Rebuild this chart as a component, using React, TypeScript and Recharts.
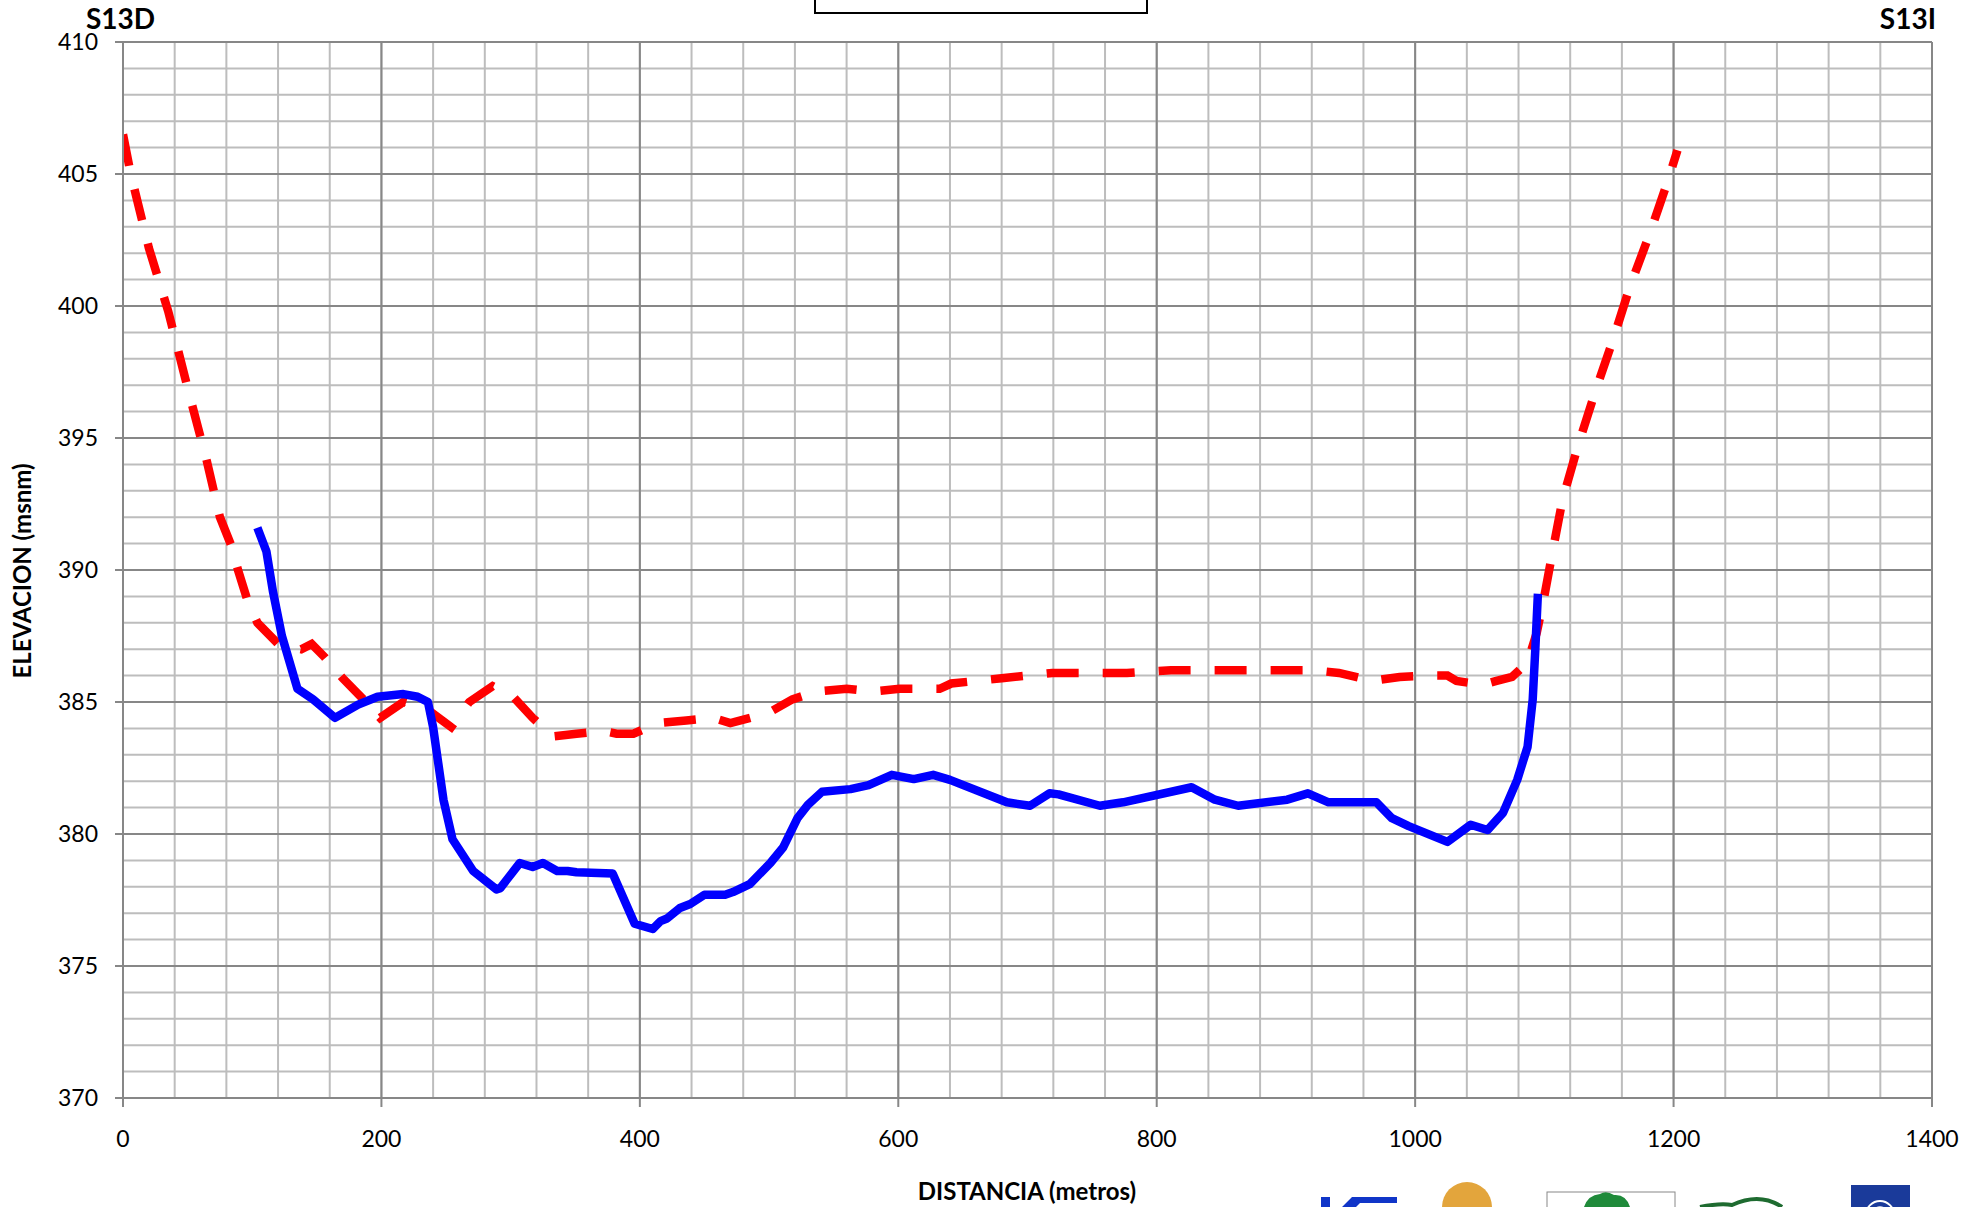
import { LineChart, Line, XAxis, YAxis, CartesianGrid } from 'recharts'

// terrain profile (blue) and design water surface (red dashed)
const terrainX = [104, 111, 116, 123, 135, 147, 164, 182, 197, 217, 228, 236, 240, 248, 255, 271, 289, 292, 307, 317, 325, 336, 344, 351, 379, 396, 410, 416, 421, 431, 439, 450, 466, 472, 485, 501, 511, 522, 530, 541, 563, 577, 595, 612, 627, 640, 684, 702, 717, 724, 756, 774, 827, 845, 863, 901, 917, 933, 950, 970, 982, 995, 1025, 1043, 1056, 1068, 1079, 1087, 1091, 1093, 1095]
const terrainY = [391.6, 390.7, 389.2, 387.5, 385.5, 385.1, 384.4, 384.9, 385.2, 385.3, 385.2, 385.0, 384.05, 381.3, 379.8, 378.6, 377.9, 377.95, 378.9, 378.75, 378.9, 378.6, 378.6, 378.55, 378.5, 376.6, 376.4, 376.7, 376.8, 377.2, 377.35, 377.7, 377.7, 377.8, 378.1, 378.9, 379.5, 380.6, 381.1, 381.6, 381.7, 381.85, 382.24, 382.08, 382.24, 382.05, 381.2, 381.07, 381.54, 381.5, 381.07, 381.2, 381.77, 381.3, 381.07, 381.3, 381.54, 381.2, 381.2, 381.2, 380.6, 380.3, 379.7, 380.35, 380.15, 380.8, 382.05, 383.3, 385.1, 387.0, 389.1]

const surfaceX = [0, 6, 20, 35, 50, 65, 75, 84, 89, 96, 104, 120, 138, 146, 156, 170, 186, 199, 217, 236, 254, 268, 286, 302, 317, 333, 351, 372, 382, 395, 414, 436, 457, 470, 478, 500, 518, 537, 560, 580, 601, 632, 641, 680, 719, 777, 811, 874, 922, 941, 967, 988, 1010, 1025, 1032, 1052, 1063, 1075, 1087, 1094, 1099, 1106, 1114, 1126, 1139, 1153, 1166, 1182, 1196, 1203]
const surfaceY = [406.5, 405.0, 402.2, 399.8, 396.9, 394.1, 392.0, 390.9, 390.0, 388.9, 388.0, 387.2, 387.0, 387.2, 386.7, 385.9, 385.1, 384.4, 385.0, 384.7, 384.05, 385.0, 385.6, 385.2, 384.4, 383.7, 383.8, 383.9, 383.8, 383.8, 384.2, 384.3, 384.4, 384.2, 384.3, 384.6, 385.1, 385.4, 385.5, 385.4, 385.5, 385.5, 385.7, 385.9, 386.1, 386.1, 386.2, 386.2, 386.2, 386.1, 385.8, 385.95, 386.0, 386.0, 385.8, 385.65, 385.8, 385.95, 386.5, 387.6, 388.75, 390.6, 392.65, 394.7, 396.7, 398.7, 400.7, 402.8, 404.8, 405.9]

const xTicks = [0, 200, 400, 600, 800, 1000, 1200, 1400]
const yTicks = [370, 375, 380, 385, 390, 395, 400, 405, 410]

const terrain = terrainX.map((x, i) => ({ x, y: terrainY[i] }))
const surface = surfaceX.map((x, i) => ({ x, y: surfaceY[i] }))

// minor grid: every 40 m horizontally, every 1 m vertically
const xMinor: number[] = []
for (let v = 0; v <= 1400; v += 40) xMinor.push(v)
const yMinor: number[] = []
for (let v = 370; v <= 410; v += 1) yMinor.push(v)

const FONT = 'Lato, "Open Sans", sans-serif'
const MAJOR = '#878787'
const MINOR = '#bdbdbd'

export default function App() {
  const tickStyle = { fill: '#000', fontSize: 23, fontFamily: FONT }

  return (
    <div style={{ position: 'fixed', left: 0, top: 0, width: 1963, height: 1207, background: '#fff', overflow: 'hidden' }}>
      <LineChart width={1963} height={1207} margin={{ top: 42, right: 31, left: 43, bottom: 49 }}>
        <CartesianGrid
          stroke={MINOR}
          strokeWidth={2}
          horizontalValues={yMinor}
          verticalValues={xMinor}
        />
        <CartesianGrid
          stroke={MAJOR}
          strokeWidth={2}
          horizontalValues={yTicks}
          verticalValues={xTicks}
        />
        <XAxis
          dataKey="x"
          type="number"
          domain={[0, 1400]}
          ticks={xTicks}
          allowDataOverflow
          height={60}
          stroke={MAJOR}
          strokeWidth={2}
          tickSize={9}
          tickMargin={24}
          tick={tickStyle}
        />
        <YAxis
          type="number"
          domain={[370, 410]}
          ticks={yTicks}
          allowDataOverflow
          width={80}
          stroke={MAJOR}
          strokeWidth={2}
          tickSize={8}
          tickMargin={17}
          tick={tickStyle}
        />
        <Line
          data={surface}
          dataKey="y"
          type="linear"
          stroke="#ff0000"
          strokeWidth={8.5}
          strokeDasharray="32 24"
          dot={false}
          isAnimationActive={false}
        />
        <Line
          data={terrain}
          dataKey="y"
          type="linear"
          stroke="#0000ff"
          strokeWidth={8.5}
          strokeLinejoin="round"
          dot={false}
          isAnimationActive={false}
        />
      </LineChart>

      <svg width={1963} height={1207} style={{ position: 'absolute', left: 0, top: 0, pointerEvents: 'none' }}>
        <text x={86} y={29} fontSize={28} fontWeight="bold" fontFamily={FONT} fill="#000">S13D</text>
        <text x={1936} y={29} fontSize={28} fontWeight="bold" fontFamily={FONT} fill="#000" textAnchor="end">S13I</text>
        <rect x={815} y={-20} width={332} height={33} fill="#fff" stroke="#000" strokeWidth={2} />
        <text x={1027} y={1200} fontSize={24} fontWeight="bold" fontFamily={FONT} fill="#000" textAnchor="middle">DISTANCIA (metros)</text>
        <text x={0} y={0} fontSize={24} fontWeight="bold" fontFamily={FONT} fill="#000" textAnchor="middle"
          transform="translate(31 571) rotate(-90)">ELEVACION (msnm)</text>

        {/* partner logos, cut by the bottom edge */}
        <rect x={1321} y={1197} width={9} height={12} fill="#1035c8" />
        <path d="M1342 1207 L1352 1197 L1397 1197 L1397 1203 L1360 1203 L1356 1207 Z" fill="#1035c8" />
        <circle cx={1467} cy={1207} r={25} fill="#e3a53c" />
        <rect x={1547} y={1192} width={128} height={20} fill="#fff" stroke="#888" strokeWidth={1} />
        <path d="M1584 1207 Q1588 1195 1600 1194 Q1606 1190 1614 1195 Q1626 1194 1630 1207 Z" fill="#1f8a3a" />
        <path d="M1700 1207 Q1720 1203 1732 1205 Q1760 1192 1782 1207" fill="none" stroke="#1e6b30" strokeWidth={4} />
        <rect x={1851} y={1185} width={59} height={24} fill="#1a3a9a" />
        <circle cx={1880} cy={1215} r={14} fill="none" stroke="#fff" strokeWidth={2} />
        <circle cx={1880} cy={1215} r={8} fill="none" stroke="#fff" strokeWidth={1.5} />
      </svg>
    </div>
  )
}
